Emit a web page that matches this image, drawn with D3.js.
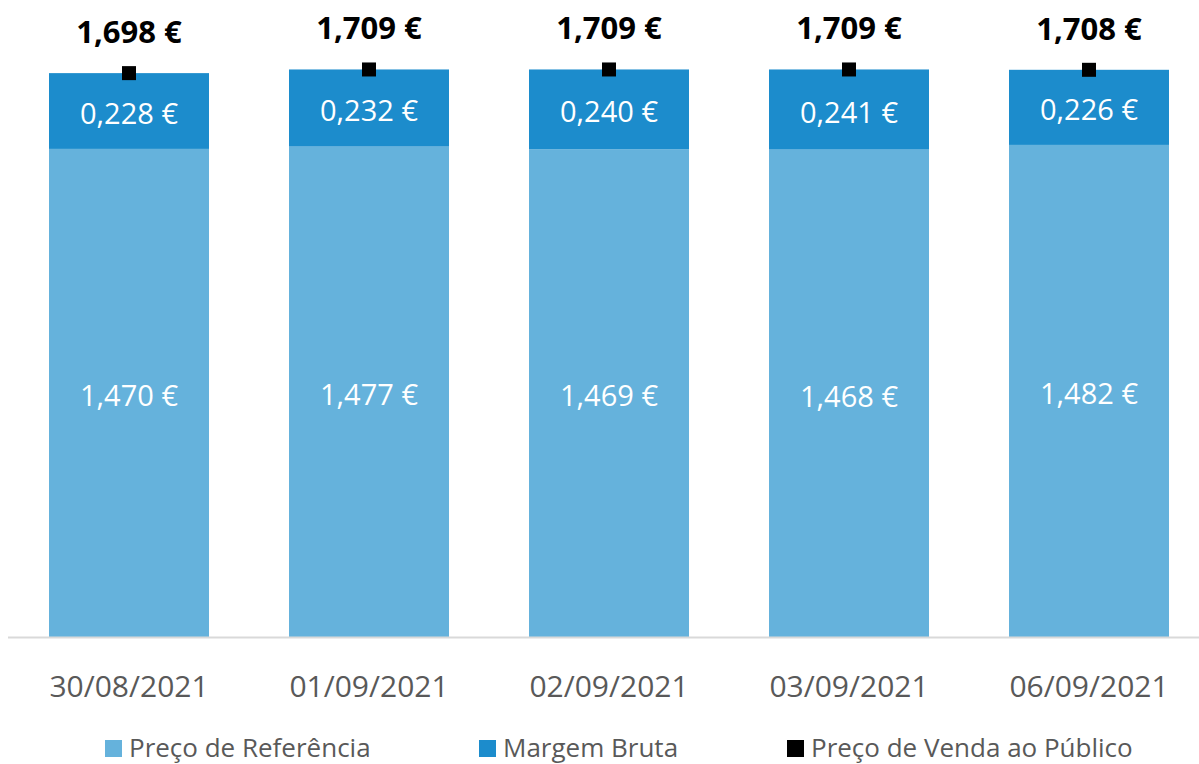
<!DOCTYPE html>
<html>
<head>
<meta charset="utf-8">
<script src="https://cdn.jsdelivr.net/npm/d3@7"></script>
<style>
  body { margin: 0; background: #fff; }
  text { font-family: "Open Sans", "Noto Sans", sans-serif; }
</style>
</head>
<body>
<svg class="chart"></svg>
<script>
var dates = ["30/08/2021", "01/09/2021", "02/09/2021", "03/09/2021", "06/09/2021"];
var precoReferencia = [1.470, 1.477, 1.469, 1.468, 1.482];
var margemBruta = [0.228, 0.232, 0.240, 0.241, 0.226];
var precoVenda = [1.698, 1.709, 1.709, 1.709, 1.708];
var seriesNames = ["Preço de Referência", "Margem Bruta", "Preço de Venda ao Público"];
var colors = ["#65b2dc", "#1c8ccc", "#000000"];

let w = 1199;
let h = 764;
let base = 637.5;

var fmt = d => d3.format(".3f")(d).replace(".", ",") + " €";

var xS = d3.scaleBand()
         .domain(dates)
         .range([9, 1209])
         .paddingInner(1 / 3)
         .paddingOuter(1 / 6);

var yS = d3.scaleLinear()
         .domain([0, 1.918])
         .range([base, 0]);

var svg = d3.select(".chart")
            .attr("width", w)
            .attr("height", h);

var rows = dates.map((d, i) => ({ date: d, ref: precoReferencia[i], mar: margemBruta[i], pvp: precoVenda[i] }));

// light segment
svg.selectAll(".ref")
   .data(rows)
   .enter().append("rect")
   .attr("x", d => xS(d.date))
   .attr("y", d => yS(d.ref))
   .attr("width", xS.bandwidth())
   .attr("height", d => base - yS(d.ref))
   .attr("fill", colors[0]);

// dark segment on top
svg.selectAll(".mar")
   .data(rows)
   .enter().append("rect")
   .attr("x", d => xS(d.date))
   .attr("y", d => yS(d.ref + d.mar))
   .attr("width", xS.bandwidth())
   .attr("height", d => yS(d.ref) - yS(d.ref + d.mar))
   .attr("fill", colors[1]);

// axis
svg.append("g")
   .attr("transform", "translate(0," + base + ")")
   .call(d3.axisBottom(xS).tickSize(0).tickPadding(38))
   .call(g => g.select(".domain").remove())
   .call(g => g.selectAll("text")
               .attr("font-size", "30px")
               .attr("fill", "#595959")
               .style("font-family", "'Open Sans', sans-serif"));

svg.append("line")
   .attr("x1", 8).attr("x2", 1199)
   .attr("y1", base).attr("y2", base)
   .attr("stroke", "#d9d9d9")
   .attr("stroke-width", 2);

// segment labels
svg.selectAll(".refLbl")
   .data(rows)
   .enter().append("text")
   .attr("x", d => xS(d.date) + xS.bandwidth() / 2)
   .attr("y", d => (yS(d.ref) + base) / 2 + 13)
   .attr("text-anchor", "middle")
   .attr("font-size", "29px")
   .attr("fill", "#fff")
   .text(d => fmt(d.ref));

svg.selectAll(".marLbl")
   .data(rows)
   .enter().append("text")
   .attr("x", d => xS(d.date) + xS.bandwidth() / 2)
   .attr("y", d => (yS(d.ref) + yS(d.ref + d.mar)) / 2 + 13)
   .attr("text-anchor", "middle")
   .attr("font-size", "29px")
   .attr("fill", "#fff")
   .text(d => fmt(d.mar));

// pvp markers
svg.selectAll(".pvp")
   .data(rows)
   .enter().append("rect")
   .attr("x", d => xS(d.date) + xS.bandwidth() / 2 - 7)
   .attr("y", d => yS(d.pvp) - 7)
   .attr("width", 14)
   .attr("height", 14)
   .attr("fill", colors[2]);

svg.selectAll(".pvpLbl")
   .data(rows)
   .enter().append("text")
   .attr("x", d => xS(d.date) + xS.bandwidth() / 2)
   .attr("y", d => yS(d.pvp) - 30)
   .attr("text-anchor", "middle")
   .attr("font-size", "31px")
   .attr("font-weight", "bold")
   .attr("fill", "#000")
   .text(d => fmt(d.pvp));

// legend
var legX = [105, 479, 787];
var leg = svg.selectAll(".leg")
   .data(seriesNames)
   .enter().append("g")
   .attr("transform", (d, i) => "translate(" + legX[i] + ",740)");

leg.append("rect")
   .attr("width", 17)
   .attr("height", 17)
   .attr("fill", (d, i) => colors[i]);

leg.append("text")
   .attr("x", 24)
   .attr("y", 17)
   .attr("font-size", "26px")
   .attr("fill", "#595959")
   .text(d => d);
</script>
</body>
</html>
